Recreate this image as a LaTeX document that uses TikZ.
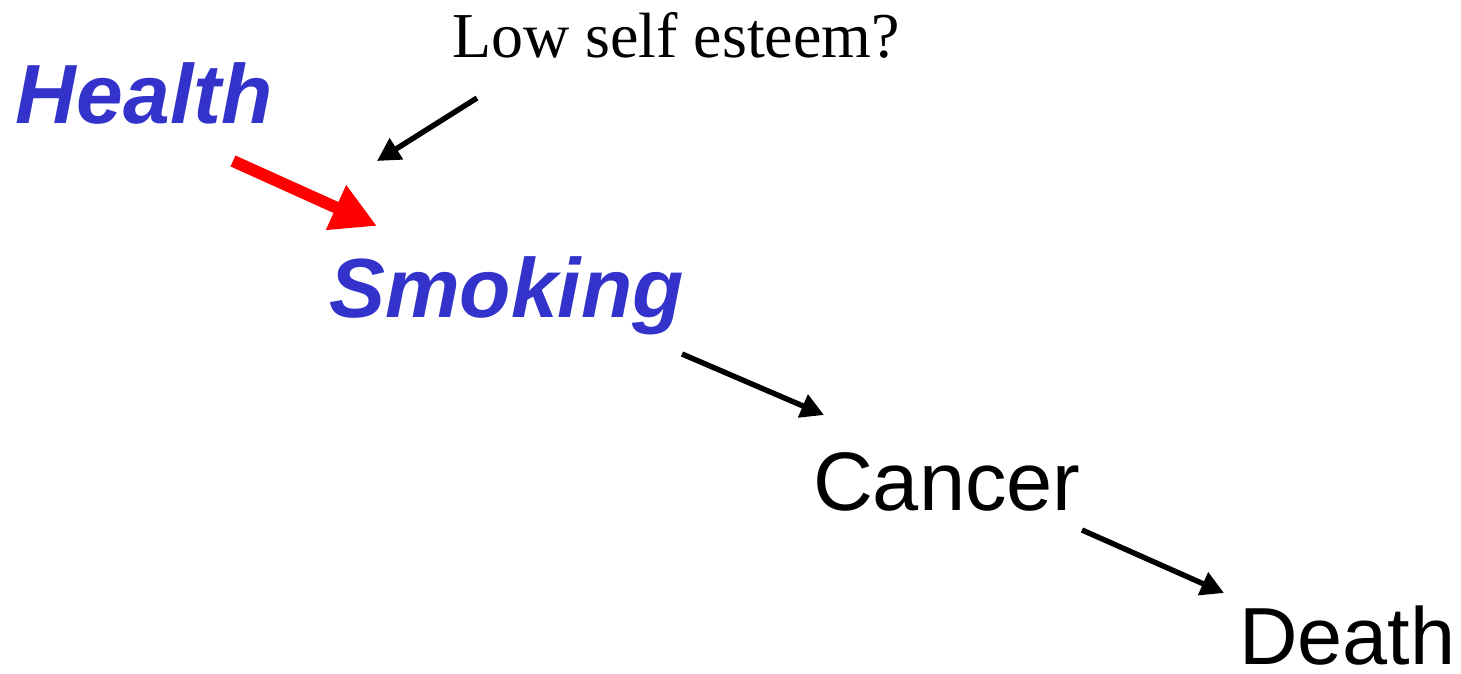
\documentclass[tikz,border=0pt]{standalone}
\usepackage{fontspec}
\setmainfont{Liberation Serif}
\newfontfamily\arialf{Liberation Sans}
\usetikzlibrary{arrows.meta}
\definecolor{hblue}{RGB}{51,51,204}
\definecolor{hred}{RGB}{255,0,0}
\tikzset{
  lbl/.style={anchor=base west, inner sep=0pt, outer sep=0pt},
  bluetxt/.style={lbl, text=hblue, font=\arialf\bfseries\itshape\fontsize{42pt}{42pt}\selectfont},
  blacktxt/.style={lbl, text=black, font=\arialf\fontsize{41.5pt}{41.5pt}\selectfont},
  serif/.style={lbl, text=black, font=\fontsize{32pt}{32pt}\selectfont},
  blackarrow/.style={draw=black, line width=2.7pt, -{Triangle[length=11.5pt,width=12pt]}},
  redarrow/.style={draw=hred, line width=6pt, -{Triangle[length=22.5pt,width=23pt]}},
}
\begin{document}
\begin{tikzpicture}[x=0.5pt,y=-0.5pt]
\useasboundingbox (0,0) rectangle (1461,674);
\node[serif] (low) at (452,58) {Low self esteem?};
\node[bluetxt] (health) at (16,124) {Health};
\node[bluetxt] (smoking) at (329,317) {Smoking};
\node[blacktxt] (cancer) at (813,510) {Cancer};
\node[blacktxt, font=\arialf\fontsize{40.5pt}{40.5pt}\selectfont] (death) at (1239,664) {Death};
\coordinate (lowA) at (477,98);
\coordinate (lowB) at (377,161);
\coordinate (hA) at (233,161);
\coordinate (hB) at (377,226);
\coordinate (sA) at (682,354);
\coordinate (sB) at (824,415);
\coordinate (cA) at (1082,530);
\coordinate (cB) at (1224,593);
\draw[blackarrow] (lowA) -- (lowB);
\draw[redarrow] (hA) -- (hB);
\draw[blackarrow] (sA) -- (sB);
\draw[blackarrow] (cA) -- (cB);
\end{tikzpicture}
\end{document}
